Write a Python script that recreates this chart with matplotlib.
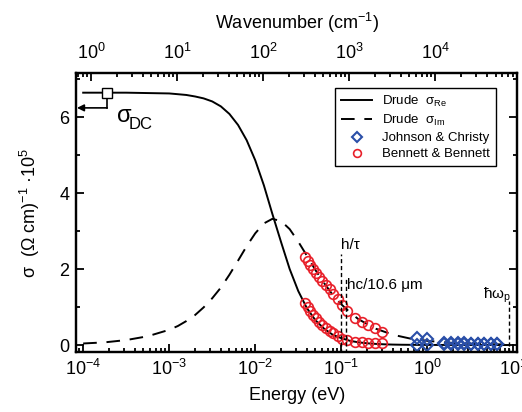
import numpy as np
import matplotlib
matplotlib.use("Agg")
import matplotlib.pyplot as plt

plt.rcParams['font.family'] = ['Liberation Sans', 'DejaVu Sans']
plt.rcParams['mathtext.fontset'] = 'custom'
plt.rcParams['mathtext.rm'] = 'Liberation Sans'
plt.rcParams['mathtext.it'] = 'Liberation Sans:italic'
plt.rcParams['mathtext.default'] = 'regular'

# Drude curves (energy in eV, sigma in 1e5 (Ohm cm)^-1)
E_drude = [1.0e-4, 1.78e-4, 3.16e-4, 5.62e-4, 1.0e-3, 1.26e-3, 1.58e-3, 2.0e-3,
           2.51e-3, 3.16e-3, 3.98e-3, 5.01e-3, 6.31e-3, 7.94e-3, 1.0e-2, 1.26e-2,
           1.58e-2, 2.0e-2, 2.51e-2, 3.16e-2, 3.98e-2, 5.01e-2, 6.31e-2, 7.94e-2,
           0.1, 0.126, 0.158, 0.2, 0.251, 0.316, 0.398, 0.501, 0.631, 0.794,
           1.0, 1.78, 3.16, 5.62, 8.9]
sig_re = [6.64, 6.64, 6.64, 6.63, 6.62, 6.60, 6.58, 6.54, 6.49, 6.41, 6.28, 6.08,
          5.79, 5.39, 4.86, 4.20, 3.45, 2.70, 2.00, 1.42, 0.97, 0.65, 0.43, 0.27,
          0.18, 0.11, 0.071, 0.045, 0.029, 0.018, 0.011, 0.007, 0.005, 0.003,
          0.002, 0.001, 0.0, 0.0, 0.0]
sig_im = [0.04, 0.07, 0.13, 0.23, 0.40, 0.50, 0.63, 0.79, 0.99, 1.23, 1.51, 1.85,
          2.22, 2.60, 2.94, 3.20, 3.32, 3.26, 3.05, 2.72, 2.35, 1.97, 1.63, 1.32,
          1.07, 0.86, 0.68, 0.55, 0.43, 0.35, 0.27, 0.22, 0.17, 0.14, 0.11,
          0.06, 0.035, 0.02, 0.012]

# Bennett & Bennett (red circles)
E_bb = [0.0381, 0.041, 0.0436, 0.0469, 0.0503, 0.055, 0.060, 0.0656, 0.073,
        0.081, 0.0905, 0.102, 0.118, 0.146, 0.175, 0.206, 0.248, 0.30]
bb_im = [2.31, 2.21, 2.10, 2.00, 1.90, 1.80, 1.68, 1.58, 1.47, 1.34, 1.21, 1.05,
         0.89, 0.71, 0.61, 0.53, 0.45, 0.34]
bb_re = [1.11, 1.01, 0.89, 0.79, 0.70, 0.61, 0.53, 0.44, 0.37, 0.31, 0.24, 0.17,
         0.12, 0.09, 0.07, 0.06, 0.05, 0.04]

# Johnson & Christy (blue diamonds)
E_jc = [0.76, 0.99, 1.58, 1.89, 2.25, 2.69, 3.22, 3.84, 4.60, 5.50, 6.46]
jc_im = [0.18, 0.17, 0.05, 0.05, 0.04, 0.04, 0.03, 0.03, 0.03, 0.02, 0.02]
jc_re = [0.0, 0.0, 0.02, 0.02, 0.02, 0.02, 0.02, 0.02, 0.02, 0.02, 0.02]

sigma_dc = 6.64
E_dc = 1.9e-4
E_htau = 0.098
E_co2 = 0.112
E_wp = 9.0
ev_per_wn = 1.2398e-4

fig = plt.figure(figsize=(5.22, 4.12), dpi=100)
ax = fig.add_axes([0.146, 0.146, 0.845, 0.677])

ax.plot(E_drude, sig_re, color='black', lw=1.4, label=r'Drude  σ$_{Re}$')
ax.plot(E_drude, sig_im, color='black', lw=1.4, dashes=(7, 5), label=r'Drude  σ$_{Im}$')
ax.plot(E_jc, jc_im, ls='none', marker='D', ms=6, mfc='none', mec='#2a4fa8', mew=1.5,
        label='Johnson & Christy')
ax.plot(E_jc, jc_re, ls='none', marker='D', ms=6, mfc='none', mec='#2a4fa8', mew=1.5)
ax.plot(E_bb, bb_im, ls='none', marker='o', ms=7, mfc='none', mec='#e8202a', mew=1.2,
        label='Bennett & Bennett')
ax.plot(E_bb, bb_re, ls='none', marker='o', ms=7, mfc='none', mec='#e8202a', mew=1.2)

# sigma_DC marker and arrow
xlo, xhi = 8.3e-5, 11.1
ax.plot([E_dc, E_dc], [sigma_dc, 6.24], color='black', lw=1.2)
ax.annotate('', xy=(xlo * 1.02, 6.24), xytext=(E_dc, 6.24),
            arrowprops=dict(arrowstyle='-|>', color='black', lw=1.2,
                            mutation_scale=10, shrinkA=0, shrinkB=0))
ax.plot([E_dc], [sigma_dc], marker='s', ms=7, mfc='white', mec='black', mew=1.0)
ax.text(2.5e-4, 6.02, 'σ', fontsize=17, ha='left', va='center')
ax.text(3.4e-4, 5.8, 'DC', fontsize=12, ha='left', va='center')

# vertical markers
ax.plot([E_htau, E_htau], [-0.2, 2.4], color='black', lw=1.0, dashes=(3, 2))
ax.plot([E_co2, E_co2], [-0.2, 1.75], color='black', lw=1.0, dashes=(3, 2))
ax.plot([E_wp, E_wp], [-0.2, 1.15], color='black', lw=1.0, dashes=(3, 2))
ax.text(0.1, 2.45, 'h/τ', fontsize=11, ha='left', va='bottom')
ax.text(0.116, 1.58, 'hc/10.6 μm', fontsize=11, ha='left', va='center')
ax.text(9.3, 1.05, 'ħω$_p$', fontsize=11, ha='right', va='bottom')

ax.set_xscale('log')
ax.set_xlim(xlo, xhi)
ax.set_ylim(-0.18, 7.16)
ax.set_yticks([0, 2, 4, 6])
ax.set_yticks([1, 3, 5, 7], minor=True)
ax.set_xlabel('Energy (eV)', fontsize=13, labelpad=6)
ax.set_ylabel('σ  (Ω cm)$^{-1}$ ·10$^{5}$', fontsize=13, labelpad=12)

ax2 = ax.twiny()
ax2.set_xscale('log')
ax2.set_xlim(xlo / ev_per_wn, xhi / ev_per_wn)
ax2.set_xlabel('Wavenumber (cm$^{-1}$)', fontsize=13, labelpad=10)

for a in (ax, ax2):
    for s in a.spines.values():
        s.set_linewidth(1.6)
    a.tick_params(which='both', direction='in', labelsize=13, width=1.3)
    a.tick_params(which='major', length=6)
    a.tick_params(which='minor', length=3)
ax.tick_params(which='both', right=True, top=False, pad=5)
ax2.tick_params(which='both', pad=7)

leg = ax.legend(loc='upper right', bbox_to_anchor=(0.952, 0.946), borderaxespad=0,
                fontsize=9.5, handlelength=2.3, labelspacing=0.3, fancybox=False,
                edgecolor='black', framealpha=1, borderpad=0.45, handletextpad=0.8,
                markerscale=0.8)
leg.get_frame().set_linewidth(1.0)

fig.savefig('out.png', dpi=100)
